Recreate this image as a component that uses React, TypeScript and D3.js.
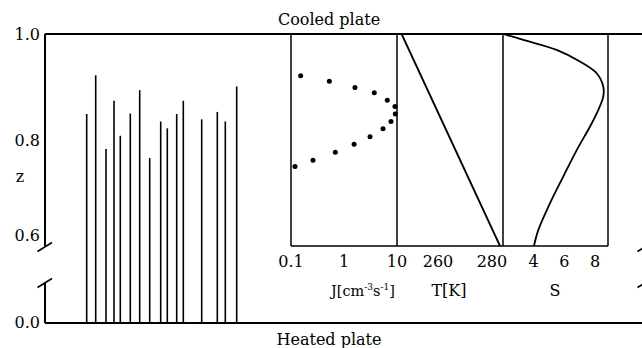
import * as d3 from 'd3'

// left axis (z) ticks, upper part of broken axis
const zTicks = [1.0, 0.8, 0.6]

// vertical streaks rising from the heated plate
const barPos = [41.7, 50.7, 61, 69, 75.3, 85.3, 94.7, 104.7, 115.7, 122.3, 131.7, 138.3, 156.7, 172.3, 180.3, 191.7]
const barTop = [0.849, 0.922, 0.783, 0.874, 0.808, 0.85, 0.894, 0.766, 0.835, 0.822, 0.849, 0.874, 0.839, 0.853, 0.835, 0.901]

// nucleation rate J vs z
const jZ = [0.921, 0.911, 0.899, 0.889, 0.875, 0.863, 0.849, 0.835, 0.821, 0.806, 0.792, 0.777, 0.762, 0.75]
const jVal = [0.152, 0.529, 1.61, 3.73, 6.56, 9.16, 9.29, 7.71, 5.45, 3.1, 1.55, 0.686, 0.26, 0.119]
const jTicks = [0.1, 1, 10]

// temperature vs z
const tZ = [1.0, 0.6]
const tVal = [246.5, 283]
const tTicks = [260, 280]

// supersaturation vs z
const sZ = [1.0, 0.989, 0.97, 0.948, 0.926, 0.901, 0.882, 0.857, 0.825, 0.781, 0.731, 0.681, 0.63, 0.6]
const sVal = [2.02, 3.32, 5.5, 7.02, 8.11, 8.54, 8.54, 8.22, 7.67, 6.81, 5.93, 5.07, 4.3, 4.02]
const sTicks = [4, 6, 8]

const W = 642, H = 348
const font = "'DejaVu Serif', serif"
const fs = 16

const App = () => {
  const z = d3.scaleLinear().domain([0.6, 1.0]).range([246, 34])
  const zLow = d3.scaleLinear().domain([0, 0.6]).range([323, 283])
  const xBar = d3.scaleLinear().domain([0, 600]).range([45, 645])
  const jx = d3.scaleLog().domain([0.1, 10]).range([291, 397])
  const tx = d3.scaleLinear().domain([244.8, 284.1]).range([397, 503])
  const sx = d3.scaleLinear().domain([2, 8.85]).range([503, 608])

  const left = xBar(0), right = xBar(600)
  const top = z(1.0), panelBottom = z(0.6), bottom = zLow(0)
  const breakHi = z(0.6), breakLo = zLow(0.6)

  const tLine = d3.line<number>().x((d, i) => tx(tVal[i])).y(d => z(d))
  const sLine = d3.line<number>().x((d, i) => sx(sVal[i])).y(d => z(d)).curve(d3.curveCatmullRom)

  const slash = (cx: number, cy: number, k: string) => (
    <line key={k} x1={cx - 7.5} y1={cy + 4.5} x2={cx + 7} y2={cy - 4.5} stroke="#000" strokeWidth={1.6} />
  )

  return (
    <svg width={W} height={H} style={{ position: 'absolute', left: 0, top: 0, background: '#fff' }} fontFamily={font}>
      {/* plates */}
      <line x1={left} x2={right} y1={top} y2={top} stroke="#000" strokeWidth={2.2} />
      <line x1={left} x2={right} y1={bottom} y2={bottom} stroke="#000" strokeWidth={2.2} />
      <text x={329} y={25} textAnchor="middle" fontSize={fs}>Cooled plate</text>
      <text x={329} y={345} textAnchor="middle" fontSize={fs}>Heated plate</text>

      {/* broken side axes */}
      {[left, right].map((x, i) => (
        <g key={i}>
          <line x1={x} x2={x} y1={top} y2={breakHi} stroke="#000" strokeWidth={2} />
          <line x1={x} x2={x} y1={breakLo} y2={bottom} stroke="#000" strokeWidth={2} />
          {slash(x, breakHi + 1, 'a')}
          {slash(x, breakLo, 'b')}
        </g>
      ))}

      {/* z tick labels */}
      <g fontSize={fs} textAnchor="end">
        {zTicks.map(t => (
          <text key={t} x={40} y={z(t) + (t === 0.6 ? -5 : 6)}>{t.toFixed(1)}</text>
        ))}
        <text x={40} y={bottom + 5}>0.0</text>
      </g>
      <text x={20} y={182} textAnchor="middle" fontSize={fs}>z</text>

      {/* streaks */}
      {barPos.map((p, i) => (
        <line key={i} x1={xBar(p)} x2={xBar(p)} y1={bottom} y2={z(barTop[i])} stroke="#000" strokeWidth={1.6} />
      ))}

      {/* inset panels */}
      <g fill="none" stroke="#000" strokeWidth={1.5}>
        <line x1={jx(0.1)} x2={jx(0.1)} y1={top} y2={panelBottom} />
        <line x1={jx(10)} x2={jx(10)} y1={top} y2={panelBottom} />
        <line x1={tx.range()[1]} x2={tx.range()[1]} y1={top} y2={panelBottom} />
        <line x1={sx.range()[1]} x2={sx.range()[1]} y1={top} y2={panelBottom} />
        <line x1={jx(0.1)} x2={sx.range()[1]} y1={panelBottom} y2={panelBottom} />
        <path d={tLine(tZ) ?? ''} strokeWidth={1.8} />
        <path d={sLine(sZ) ?? ''} strokeWidth={1.8} />
      </g>
      {jZ.map((d, i) => (
        <circle key={i} cx={jx(jVal[i])} cy={z(d)} r={2.5} fill="#000" />
      ))}

      {/* inset tick labels */}
      <g fontSize={fs} textAnchor="middle">
        {jTicks.map(t => <text key={'j' + t} x={jx(t)} y={267}>{t}</text>)}
        {tTicks.map(t => <text key={'t' + t} x={tx(t)} y={267}>{t}</text>)}
        {sTicks.map(t => <text key={'s' + t} x={sx(t)} y={267}>{t}</text>)}
        <text x={363} y={296} fontSize={14.5}>
          J[cm<tspan fontSize={9} dy={-6}>-3</tspan><tspan dy={6}>s</tspan><tspan fontSize={9} dy={-6}>-1</tspan><tspan dy={6}>]</tspan>
        </text>
        <text x={449} y={296}>T[K]</text>
        <text x={555} y={296}>S</text>
      </g>
    </svg>
  )
}

export default App
